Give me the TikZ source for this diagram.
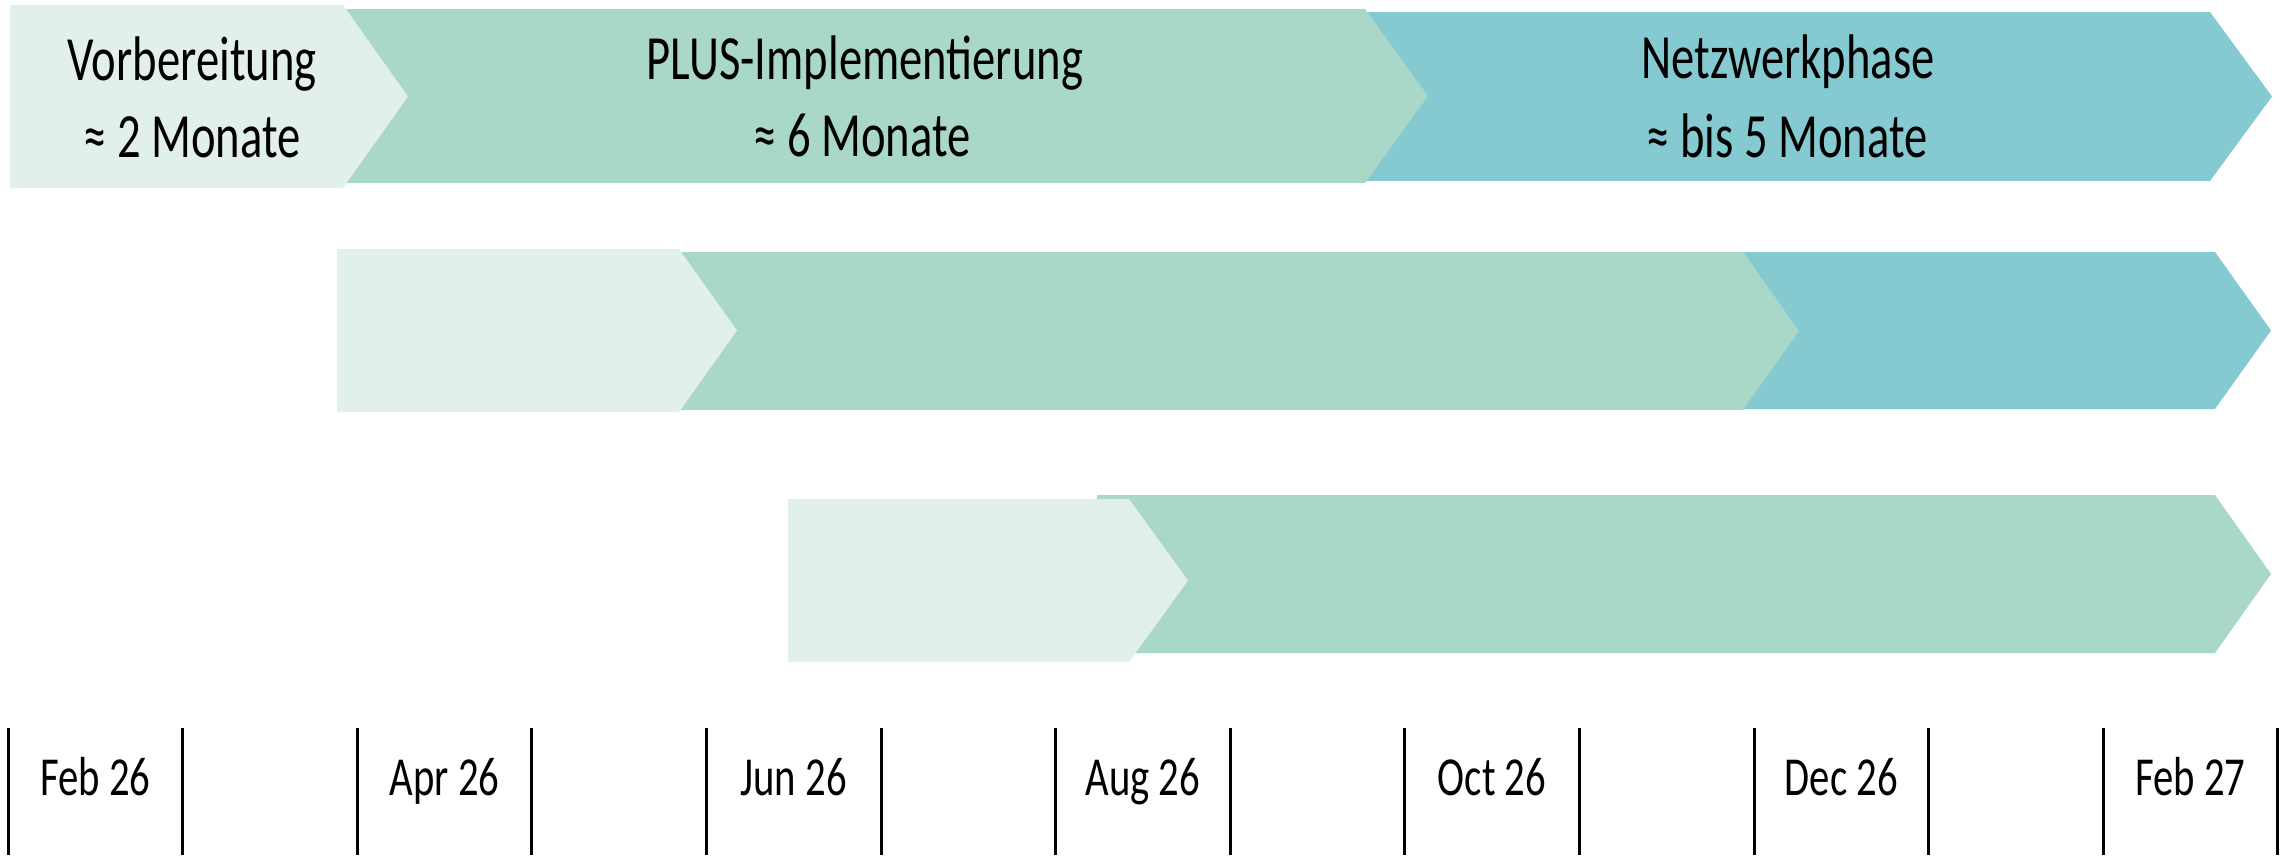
\documentclass[tikz,border=0pt]{standalone}
\usepackage{fontspec}
\setmainfont{Carlito}[FakeStretch=0.74]
\definecolor{lightc}{HTML}{E2F0EB}
\definecolor{greenc}{HTML}{A9D8C9}
\definecolor{tealc}{HTML}{85C9D1}
% color, left, top, corner, point, bottom
\newcommand{\phasearrow}[6]{\fill[#1] (#2,#3) -- (#4,#3) -- (#5,{(#3+#6)/2}) -- (#4,#6) -- (#2,#6) -- cycle;}
\tikzset{
  phasetext/.style={anchor=base, inner sep=0pt, font=\fontsize{63}{76}\selectfont},
  monthtext/.style={anchor=base, inner sep=0pt, font=\fontsize{55}{66}\selectfont},
  tickline/.style={line width=3pt, black}
}
\begin{document}
\begin{tikzpicture}[x=1pt,y=-1pt]
\useasboundingbox (0,0) rectangle (2292,855);
% row 1
\phasearrow{tealc}{1340}{12}{2210}{2272}{181}
\phasearrow{greenc}{320}{9}{1365}{1428}{183}
\phasearrow{lightc}{10}{5}{343}{408}{188}
% row 2
\phasearrow{tealc}{1720}{252}{2215}{2271}{409}
\phasearrow{greenc}{660}{252}{1743}{1799}{410}
\phasearrow{lightc}{337}{249}{679}{737}{412}
% row 3
\phasearrow{greenc}{1097}{495}{2215}{2271}{653}
\phasearrow{lightc}{788}{499}{1129}{1188}{662}
% texts row 1
\node[phasetext] (v1) at (192,80) {Vorbereitung};
\node[phasetext] (v2) at (192,157) {≈ 2 Monate};
\node[phasetext] (p1) at (865,79) {PLUS-Implementierung};
\node[phasetext] (p2) at (862,156) {≈ 6 Monate};
\node[phasetext] (n1) at (1788,78) {Netzwerkphase};
\node[phasetext] (n2) at (1787,157) {≈ bis 5 Monate};
% timeline
\foreach \k in {0,...,13} {
  \coordinate (t\k) at ({8+174.6*\k},728);
  \coordinate (b\k) at ({8+174.6*\k},855);
  \draw[tickline] (t\k) -- (b\k);
}
\foreach \k/\lab in {0/Feb 26, 2/Apr 26, 4/Jun 26, 6/Aug 26, 8/Oct 26, 10/Dec 26, 12/Feb 27} {
  \node[monthtext] (m\k) at ({8+174.6*\k+87.3},795) {\lab};
}
\end{tikzpicture}
\end{document}
